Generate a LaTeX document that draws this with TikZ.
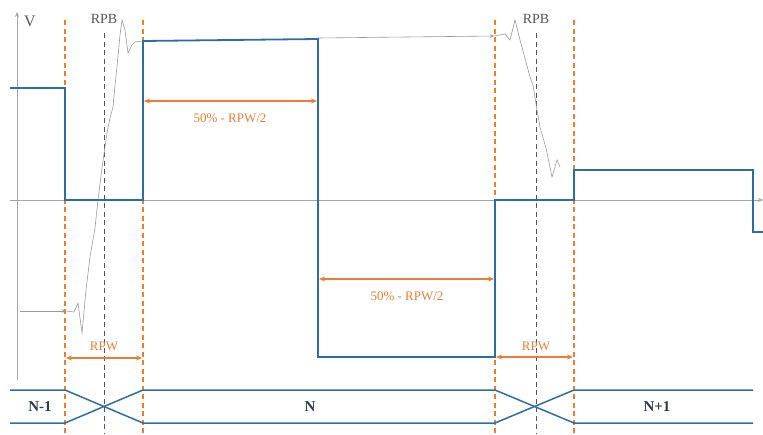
\documentclass[tikz,border=0pt]{standalone}
\usepackage{fontspec}
\setmainfont{Liberation Serif}
\usetikzlibrary{arrows.meta}
\definecolor{wblue}{HTML}{2E6DA4}
\definecolor{dorange}{HTML}{ED7D31}
\definecolor{axgray}{HTML}{A6A6A6}
\definecolor{dgray}{HTML}{555555}
\definecolor{ngray}{HTML}{9A9A9A}
\definecolor{txtdark}{HTML}{2F3B48}
\begin{document}
\begin{tikzpicture}[x=1pt,y=-1pt,
  wave/.style={wblue, line width=1.8pt, line join=miter},
  bus/.style={wblue, line width=1.5pt},
  guide/.style={dorange, line width=1.2pt, dash pattern=on 5pt off 3.5pt},
  midline/.style={dgray, line width=1pt, dash pattern=on 5pt off 3.5pt},
  dimarrow/.style={dorange, line width=1.2pt, arrows={Stealth[length=6pt,width=5pt]-Stealth[length=6pt,width=5pt]}},
  axisarrow/.style={axgray, line width=1pt, arrows={-Stealth[length=5pt,width=4pt]}},
  noisearrow/.style={ngray, line width=0.6pt, arrows={-Stealth[length=4pt,width=3.5pt]}},
  noise/.style={ngray, line width=0.6pt},
  dimlbl/.style={font=\fontsize{13}{15}\selectfont, text=dorange, inner sep=1pt},
  rpblbl/.style={font=\fontsize{14}{16}\selectfont, text=dgray, inner sep=1pt},
  buslbl/.style={font=\bfseries\fontsize{15}{17}\selectfont, text=txtdark, inner sep=1pt}]
\path[use as bounding box] (0,0) rectangle (763,434);

% axes
\coordinate (ya0) at (17,380);
\coordinate (ya1) at (17,12);
\coordinate (xa0) at (10,200);
\coordinate (xa1) at (763,200);
\draw[axisarrow] (ya0) -- (ya1);
\draw[axisarrow] (xa0) -- (xa1);
\node[font=\fontsize{16}{18}\selectfont, text=dgray, inner sep=0pt] (vlab) at (30,21) {V};

% guide lines
\foreach \x/\n in {65/ga,143/gb,495/gc,574/gd}{
  \coordinate (\n t) at (\x,20);
  \coordinate (\n b) at (\x,434);
  \draw[guide] (\n t) -- (\n b);
}
\foreach \x/\n in {104/ca,536/cb}{
  \coordinate (\n t) at (\x,33);
  \coordinate (\n b) at (\x,434);
  \draw[midline] (\n t) -- (\n b);
}
\node[rpblbl] (rpb1) at (104,19) {RPB};
\node[rpblbl] (rpb2) at (536,19) {RPB};

% noisy analog waveform
\coordinate (nl0) at (20,311);
\coordinate (nl1) at (66,311);
\draw[noisearrow] (nl0) -- (nl1);
\draw[noise] (nl1) -- (74,312) -- (78,303) -- (82,333) -- (86,290) -- (90,257) -- (95,228)
  -- (98,200) -- (102,168) -- (107,133) -- (110,118) -- (113,107) -- (115,85) -- (117,67)
  -- (120,35) -- (122,20) -- (125,30) -- (128,53) -- (132,45) -- (135,42) -- (142,41);
\coordinate (nr0) at (318,38);
\coordinate (nr1) at (494,36);
\draw[noisearrow] (nr0) -- (nr1);
\draw[noise] (nr1) -- (505,34) -- (510,40) -- (515,20) -- (520,40) -- (526,62) -- (530,77)
  -- (533,85) -- (537,110) -- (540,127) -- (546,148) -- (552,177) -- (557,160) -- (560,167);

% digital waveform
\draw[wave] (10,88) -- (65,88) -- (65,200) -- (143,200) -- (143,41) -- (318,39)
  -- (318,357) -- (495,357) -- (495,200) -- (574,200) -- (574,170) -- (753,170)
  -- (753,232) -- (763,232);

% dimension arrows
\coordinate (d1a) at (144,101); \coordinate (d1b) at (317,101);
\coordinate (d2a) at (319,279); \coordinate (d2b) at (494,279);
\coordinate (r1a) at (66,358);  \coordinate (r1b) at (142,358);
\coordinate (r2a) at (496,357); \coordinate (r2b) at (573,357);
\draw[dimarrow] (d1a) -- (d1b);
\draw[dimarrow] (d2a) -- (d2b);
\draw[dimarrow] (r1a) -- (r1b);
\draw[dimarrow] (r2a) -- (r2b);
\node[dimlbl] (d1) at (230,118) {50\% - RPW/2};
\node[dimlbl] (d2) at (407,296) {50\% - RPW/2};
\node[dimlbl] (r1) at (104,346) {RPW};
\node[dimlbl] (r2) at (536,346) {RPW};

% bus
\draw[bus] (10,390) -- (65,390) -- (143,423) -- (495,423) -- (574,390) -- (753,390);
\draw[bus] (10,423) -- (65,423) -- (143,390) -- (495,390) -- (574,423) -- (753,423);
\node[buslbl] (b1) at (40,407) {N-1};
\node[buslbl] (b2) at (310,407) {N};
\node[buslbl] (b3) at (657,407) {N+1};
\end{tikzpicture}
\end{document}
